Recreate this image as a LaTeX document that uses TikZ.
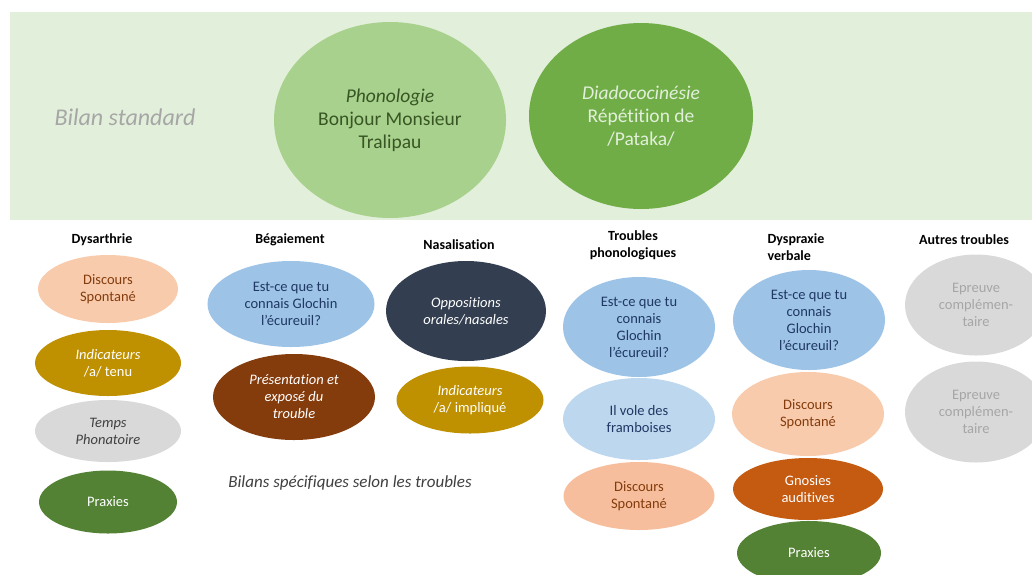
\documentclass[tikz,border=0pt]{standalone}
\usepackage{fontspec}
\setmainfont{Carlito}[Ligatures = NoCommon]
\usetikzlibrary{shapes.geometric}
\definecolor{fondvert}{HTML}{E2EFDA}
\definecolor{vertclair}{HTML}{A9D18E}
\definecolor{vertmoyen}{HTML}{70AD47}
\definecolor{vertfonce}{HTML}{548235}
\definecolor{vertnuit}{HTML}{375623}
\definecolor{saumon}{HTML}{F8CBAD}
\definecolor{saumonvif}{HTML}{F6BE9C}
\definecolor{brique}{HTML}{843C0C}
\definecolor{rouille}{HTML}{C55A11}
\definecolor{moutarde}{HTML}{BF9000}
\definecolor{grisclair}{HTML}{D9D9D9}
\definecolor{grismoyen}{HTML}{A6A6A6}
\definecolor{grisfonce}{HTML}{404040}
\definecolor{bleu}{HTML}{9DC3E6}
\definecolor{bleuclair}{HTML}{BDD7EE}
\definecolor{marine}{HTML}{1F3864}
\definecolor{ardoise}{HTML}{333F50}
\begin{document}
\begin{tikzpicture}[x = 1pt, y = -1pt,
    bulle/.style = {ellipse, inner sep = 0pt, align = center,
                    font = \fontsize{14.5}{17}\selectfont},
    grande/.style = {ellipse, inner sep = 0pt, align = center,
                     font = \fontsize{19.5}{23}\selectfont},
    titre/.style = {align = center, font = \bfseries\fontsize{14}{17}\selectfont}]
  \useasboundingbox (0, 0) rectangle (1032, 574);
  % bilan standard
  \fill[fondvert] (10, 12) rectangle (1032, 220);
  \node[text = grismoyen, font = \itshape\fontsize{24}{28}\selectfont]
    (standard) at (125, 117) {Bilan standard};
  \node[grande, fill = vertclair, text = vertnuit, minimum width = 232, minimum height = 196]
    (phono) at (390, 120) {\textit{Phonologie}\\Bonjour Monsieur\\Tralipau};
  \node[grande, fill = vertmoyen, text = fondvert, minimum width = 224, minimum height = 186]
    (diado) at (641, 116) {\textit{Diadococinésie}\\Répétition de\\/Pataka/};

  % titres des colonnes
  \node[titre] (dys) at (102, 240) {Dysarthrie};
  \node[titre] (beg) at (290, 240) {Bégaiement};
  \node[titre] (nas) at (459, 245) {Nasalisation};
  \node[titre] (tph) at (633, 245) {Troubles\\phonologiques};
  \node[titre, align = left, anchor = west] (dvb) at (764, 247) {Dyspraxie\\verbale};
  \node[titre] (aut) at (964, 240) {Autres troubles};

  % dysarthrie
  \node[bulle, fill = saumon, text = brique, minimum width = 140, minimum height = 68]
    (dys1) at (108, 289) {Discours\\Spontané};
  \node[bulle, fill = moutarde, text = white, minimum width = 146, minimum height = 66]
    (dys2) at (108, 363) {\textit{Indicateurs}\\/a/ tenu};
  \node[bulle, fill = grisclair, text = grisfonce, minimum width = 146, minimum height = 62,
        font = \itshape\fontsize{14.5}{17}\selectfont]
    (dys3) at (108, 431) {Temps\\Phonatoire};
  \node[bulle, fill = vertfonce, text = white, minimum width = 138, minimum height = 63]
    (dys4) at (108, 502) {Praxies};

  % begaiement
  \node[bulle, fill = bleu, text = marine, minimum width = 167, minimum height = 86]
    (beg1) at (291, 304) {Est-ce que tu\\connais Glochin\\l’écureuil?};
  \node[bulle, fill = brique, text = white, minimum width = 162, minimum height = 86,
        font = \itshape\fontsize{14.5}{17}\selectfont]
    (beg2) at (294, 397) {Présentation et\\exposé du\\trouble};

  % nasalisation
  \node[bulle, fill = ardoise, text = white, minimum width = 160, minimum height = 100,
        font = \itshape\fontsize{14.5}{17}\selectfont]
    (nas1) at (466, 311) {Oppositions\\orales/nasales};
  \node[bulle, fill = moutarde, text = white, minimum width = 147, minimum height = 67]
    (nas2) at (470, 400) {\textit{Indicateurs}\\/a/ impliqué};

  \node[text = grisfonce, font = \itshape\fontsize{17}{20}\selectfont]
    (specif) at (350, 483) {Bilans spécifiques selon les troubles};

  % troubles phonologiques
  \node[bulle, fill = bleu, text = marine, minimum width = 152, minimum height = 100]
    (tph1) at (639, 327) {Est-ce que tu\\connais\\Glochin\\l’écureuil?};
  \node[bulle, fill = bleuclair, text = marine, minimum width = 152, minimum height = 82]
    (tph2) at (639, 419) {Il vole des\\framboises};
  \node[bulle, fill = saumonvif, text = brique, minimum width = 151, minimum height = 68]
    (tph3) at (639, 496) {Discours\\Spontané};

  % dyspraxie verbale
  \node[bulle, fill = bleu, text = marine, minimum width = 152, minimum height = 100]
    (dvb1) at (809, 320) {Est-ce que tu\\connais\\Glochin\\l’écureuil?};
  \node[bulle, fill = saumon, text = brique, minimum width = 152, minimum height = 84]
    (dvb2) at (808, 414) {Discours\\Spontané};
  \node[bulle, fill = rouille, text = white, minimum width = 150, minimum height = 62]
    (dvb3) at (808, 489) {Gnosies\\auditives};
  \node[bulle, fill = vertfonce, text = white, minimum width = 144, minimum height = 64]
    (dvb4) at (809, 553) {Praxies};

  % autres troubles
  \node[bulle, fill = grisclair, text = grismoyen, minimum width = 142, minimum height = 101]
    (aut1) at (976, 305) {Epreuve\\complémen-\\taire};
  \node[bulle, fill = grisclair, text = grismoyen, minimum width = 142, minimum height = 101]
    (aut2) at (976, 412) {Epreuve\\complémen-\\taire};
\end{tikzpicture}
\end{document}
